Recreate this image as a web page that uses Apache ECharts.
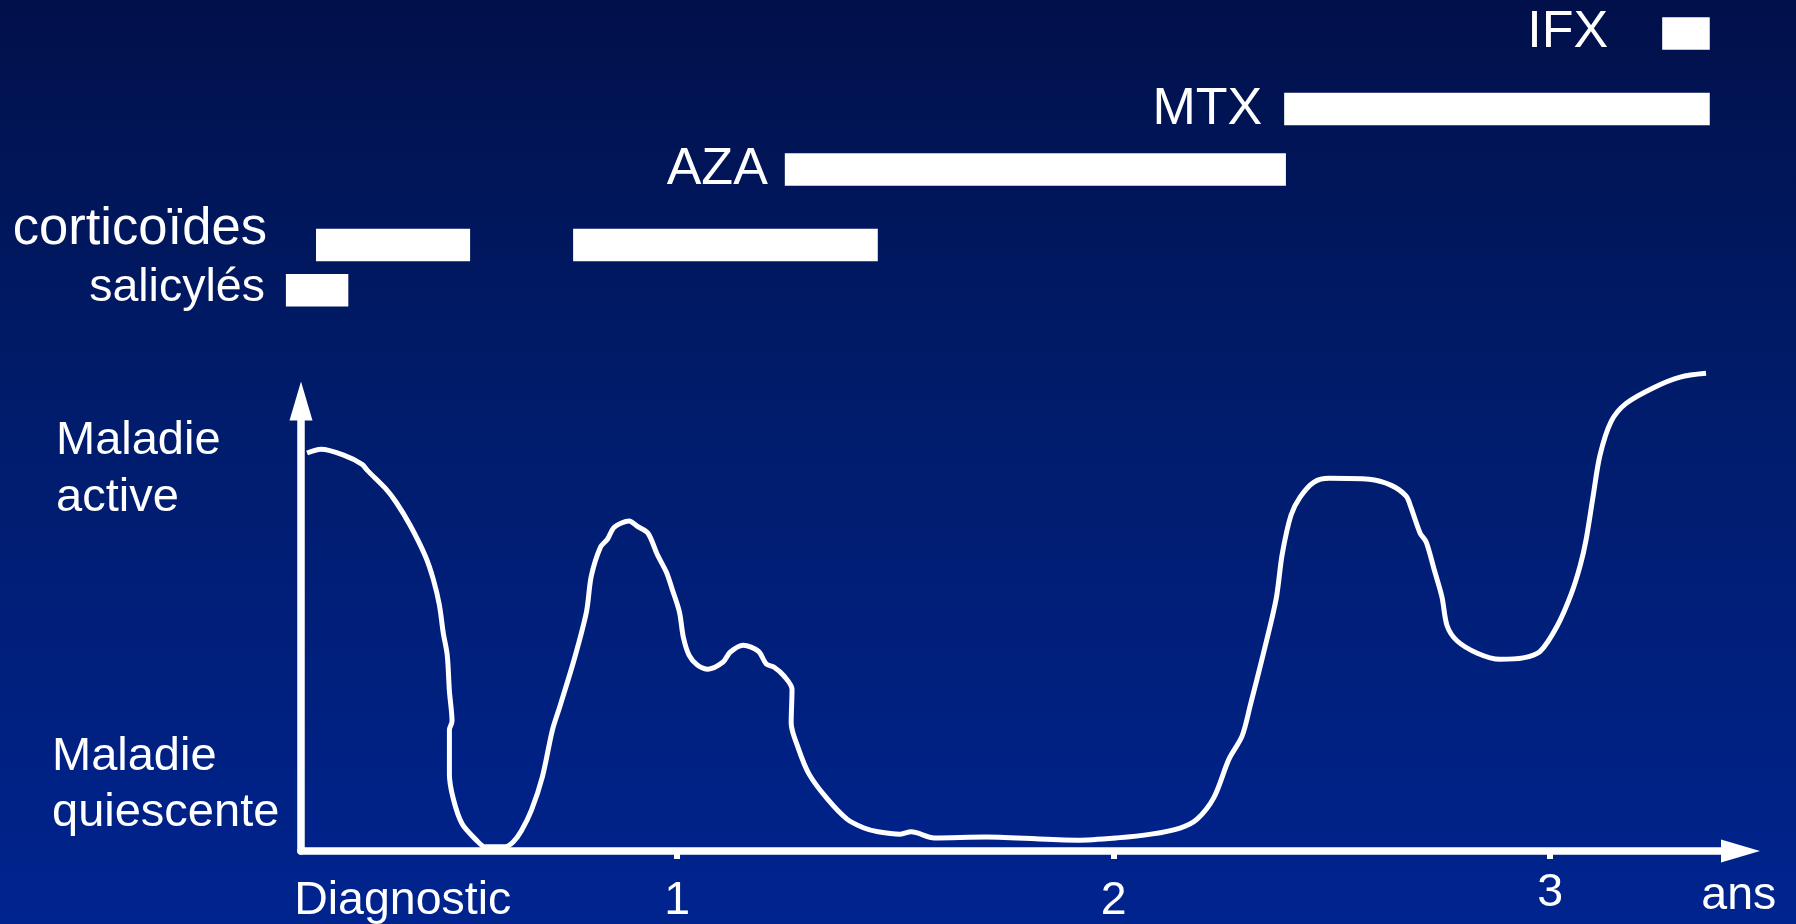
<!DOCTYPE html>
<html>
<head>
<meta charset="utf-8">
<script src="https://cdn.jsdelivr.net/npm/echarts@6/dist/echarts.min.js"></script>
<style>
html,body{margin:0;padding:0;overflow:hidden;background:#00134f;}
#chart{width:1796px;height:924px;}
</style>
</head>
<body>
<div id="chart"></div>
<script>
// ---------- DATA ----------
// Disease activity curve: time (years since diagnosis) and activity level (0 = quiescent, ~100 = active)
const CURVE_YEARS = [
  0.152,0.184,0.237,0.278,0.290,0.331,0.356,0.388,0.423,0.441,
  0.455,0.464,0.473,0.478,0.484,0.478,0.478,0.487,0.507,0.540,
  0.560,0.606,0.624,0.643,0.666,0.691,0.714,0.732,0.764,0.792,
  0.803,0.824,0.840,0.856,0.890,0.908,0.933,0.954,0.975,0.989,
  1.005,1.014,1.027,1.046,1.071,1.105,1.121,1.151,1.186,1.204,
  1.222,1.245,1.263,1.261,1.277,1.302,1.344,1.389,1.428,1.460,
  1.511,1.536,1.589,1.708,1.916,2.008,2.086,2.152,2.191,2.230,
  2.264,2.294,2.313,2.342,2.372,2.386,2.406,2.427,2.459,2.494,
  2.585,2.636,2.670,2.681,2.702,2.716,2.734,2.752,2.764,2.787,
  2.833,2.885,2.938,2.977,3.016,3.048,3.069,3.082,3.098,3.114,
  3.140,3.174,3.238,3.298,3.357
];
const CURVE_ACTIVITY = [
  84.9,85.7,84.4,82.5,81.2,77.4,74.4,69.5,62.9,58.0,
  52.5,46.5,41.8,34.1,27.7,25.8,16.4,11.1,5.8,2.3,
  0.9,0.9,1.9,4.3,8.7,15.8,25.8,31.1,40.9,51.0,
  58.6,64.8,66.5,69.1,70.4,69.3,67.8,63.3,59.5,55.7,
  51.0,45.6,41.8,39.7,38.8,40.3,42.4,43.9,42.6,39.9,
  39.2,37.3,34.5,27.3,22.0,16.4,11.1,6.8,4.9,4.1,
  3.6,4.1,2.8,3.0,2.3,2.8,3.6,4.9,6.8,11.5,
  19.6,24.5,31.1,41.8,53.7,63.3,71.6,75.5,78.7,79.5,
  79.3,78.0,75.7,73.3,67.8,65.9,60.1,54.2,48.0,44.8,
  42.2,40.9,41.2,42.6,48.0,54.8,61.0,66.3,75.5,84.4,
  91.7,95.5,98.9,101.1,101.9
];

// Treatments (rows) and treatment periods (years)
const TREATMENTS = ['IFX', 'MTX', 'AZA', 'corticoïdes', 'salicylés'];
const PERIOD_ROW   = [4,     3,     3,     2,     1,     0];
const PERIOD_START = [0.104, 0.173, 0.762, 1.247, 2.391, 3.257];
const PERIOD_END   = [0.247, 0.526, 1.460, 2.395, 3.366, 3.366];

// Axis labels
const X_LABEL_VALUES = [0.371, 1, 2, 3, 3.432];
const X_LABEL_TEXTS  = ['Diagnostic', '1', '2', '3', 'ans'];
const X_TICK_VALUES  = [1, 2, 3];
const Y_LABEL_VALUES = [14.05, 81.35];
const Y_LABEL_TEXTS  = ['Maladie\nquiescente', 'Maladie\nactive'];

// ---------- LAYOUT / STYLE ----------
const FONT = '"Liberation Sans", Arial, sans-serif';
const ROW_Y = [33.4, 109, 169.5, 245, 290.3];      // row centre (px from top)
const BAR_H = 32.5;
const LABEL_GAP = [54, 22, 17, 49, 21];
const LABEL_DY = [-0.5, 0.5, 0.5, -15.5, -2.5];
const LABEL_SIZE = [52, 52, 52, 52.6, 46.5];
const X_LABEL_STYLE = {'3': 'r3', 'ans': 'ra'};
const Y_LABEL_STYLE = ['q', 'a'];

const curveData = CURVE_YEARS.map((x, i) => [x, CURVE_ACTIVITY[i]]);
const seenRow = {};
const periodData = PERIOD_ROW.map((r, i) => {
  const first = seenRow[r] ? 0 : 1;
  seenRow[r] = true;
  return [PERIOD_START[i], PERIOD_END[i], r, first];
});

const chart = echarts.init(document.getElementById('chart'), null, {renderer: 'canvas'});
const option = {
  animation: false,
  backgroundColor: {
    type: 'linear', x: 0, y: 0, x2: 0, y2: 1,
    colorStops: [
      {offset: 0, color: '#01104a'},
      {offset: 0.4, color: '#001b68'},
      {offset: 1, color: '#00248f'}
    ]
  },
  grid: [
    {left: 301, right: 55.5, top: 401, bottom: 73, outerBoundsMode: 'none'},
    {left: 240.5, width: 1527.75, top: 0, height: 924, outerBoundsMode: 'none'}
  ],
  xAxis: [
    {
      gridIndex: 0, type: 'value', min: 0.138, max: 3.436,
      axisLine: {show: true, symbol: ['none', 'triangle'], symbolSize: [23, 39],
        lineStyle: {color: '#ffffff', width: 7.5}},
      axisTick: {show: true, customValues: X_TICK_VALUES, length: 8, inside: false,
        lineStyle: {color: '#ffffff', width: 6}},
      axisLabel: {
        show: true, customValues: X_LABEL_VALUES, margin: 27,
        color: '#ffffff', fontSize: 46.5, fontFamily: FONT, lineHeight: 47,
        formatter: function (v) {
          let idx = X_LABEL_VALUES.findIndex(t => Math.abs(t - v) < 1e-6);
          if (idx < 0) return '';
          const t = X_LABEL_TEXTS[idx];
          const st = X_LABEL_STYLE[t] || 'n';
          return '{' + st + '|' + t + '}';
        },
        rich: {
          n:  {color: '#ffffff', fontSize: 46.5, fontFamily: FONT, lineHeight: 47},
          r3: {color: '#ffffff', fontSize: 46.5, fontFamily: FONT, lineHeight: 31},
          ra: {color: '#ffffff', fontSize: 46.5, fontFamily: FONT, lineHeight: 36}
        }
      },
      splitLine: {show: false}
    },
    {gridIndex: 1, type: 'value', min: 0, max: 3.5, show: false}
  ],
  yAxis: [
    {
      gridIndex: 0, type: 'value', min: 0, max: 96,
      axisLine: {show: true, symbol: ['none', 'triangle'], symbolSize: [23, 39],
        lineStyle: {color: '#ffffff', width: 7.5}},
      axisTick: {show: false},
      axisLabel: {
        show: true, customValues: Y_LABEL_VALUES, margin: 249, align: 'left',
        color: '#ffffff', fontSize: 47, fontFamily: FONT, lineHeight: 57,
        formatter: function (v) {
          let idx = Y_LABEL_VALUES.findIndex(t => Math.abs(t - v) < 1e-6);
          if (idx < 0) return '';
          const st = Y_LABEL_STYLE[idx];
          return Y_LABEL_TEXTS[idx].split('\n').map(s => '{' + st + '|' + s + '}').join('\n');
        },
        rich: {
          q: {color: '#ffffff', fontSize: 47, fontFamily: FONT, lineHeight: 56},
          a: {color: '#ffffff', fontSize: 47, fontFamily: FONT, lineHeight: 57, padding: [0, 0, 0, 4]}
        }
      },
      splitLine: {show: false}
    },
    {gridIndex: 1, type: 'value', min: 0, max: 924, inverse: true, show: false}
  ],
  series: [
    {
      type: 'line', xAxisIndex: 0, yAxisIndex: 0,
      data: curveData, showSymbol: false, smooth: 0.3, clip: false, silent: true,
      lineStyle: {color: '#ffffff', width: 5}, z: 3
    },
    {
      type: 'custom', xAxisIndex: 1, yAxisIndex: 1, clip: false, silent: true,
      data: periodData, encode: {x: [0, 1]},
      renderItem: function (params, api) {
        const s = api.value(0), e = api.value(1), row = api.value(2), first = api.value(3);
        const p0 = api.coord([s, ROW_Y[row]]);
        const p1 = api.coord([e, ROW_Y[row]]);
        const children = [{
          type: 'rect',
          shape: {x: p0[0], y: p0[1] - BAR_H / 2, width: p1[0] - p0[0], height: BAR_H},
          style: {fill: '#ffffff'}
        }];
        if (first) {
          children.push({
            type: 'text',
            style: {
              text: TREATMENTS[row], x: p0[0] - LABEL_GAP[row], y: p0[1] + LABEL_DY[row],
              align: 'right', verticalAlign: 'middle', fill: '#ffffff',
              fontSize: LABEL_SIZE[row], fontFamily: FONT
            }
          });
        }
        return {type: 'group', children: children};
      }
    }
  ]
};
chart.setOption(option);
</script>
</body>
</html>
